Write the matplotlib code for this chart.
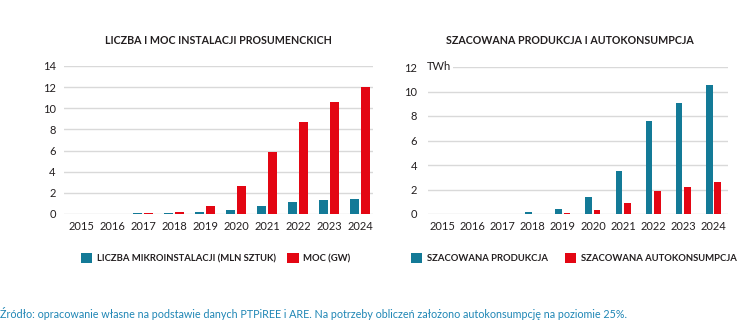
import matplotlib
matplotlib.use("Agg")
import matplotlib.pyplot as plt
from matplotlib.patches import Patch

plt.rcParams['font.family'] = ['Lato', 'DejaVu Sans']

years = ['2015', '2016', '2017', '2018', '2019', '2020', '2021', '2022', '2023', '2024']
liczba = [0.01, 0.02, 0.05, 0.08, 0.15, 0.38, 0.79, 1.13, 1.32, 1.45]
moc = [0.01, 0.02, 0.10, 0.22, 0.72, 2.67, 5.82, 8.74, 10.63, 11.98]
produkcja = [0.01, 0.02, 0.03, 0.14, 0.38, 1.39, 3.51, 7.59, 9.06, 10.50]
autokons = [0.01, 0.01, 0.02, 0.04, 0.10, 0.33, 0.87, 1.85, 2.23, 2.61]

left_title = 'LICZBA I MOC INSTALACJI PROSUMENCKICH'
right_title = 'SZACOWANA PRODUKCJA I AUTOKONSUMPCJA'
left_labels = ['LICZBA MIKROINSTALACJI (MLN SZTUK)', 'MOC (GW)']
right_labels = ['SZACOWANA PRODUKCJA', 'SZACOWANA AUTOKONSUMPCJA']
footer = 'Źródło: opracowanie własne na podstawie danych PTPiREE i ARE. Na potrzeby obliczeń założono autokonsumpcję na poziomie 25%.'

BLUE = '#137a97'
RED = '#e30613'
GRID = '#d9d9d9'
TXT = '#231f20'

W, H = 747, 331
fig = plt.figure(figsize=(W/100, H/100), dpi=100)

def ax_at(x0, x1, y0, y1):
    return fig.add_axes([x0/W, 1 - y1/H, (x1-x0)/W, (y1-y0)/H])

axL = ax_at(64, 373, 66, 214)
axR = ax_at(428, 728, 67, 214)

x = list(range(len(years)))

def style(ax, ymax, step, xlim):
    ax.set_ylim(0, ymax)
    ax.set_xlim(*xlim)
    ax.set_yticks(range(0, ymax + 1, step))
    ax.set_xticks(x)
    ax.set_xticklabels(years)
    for s in ax.spines.values():
        s.set_visible(False)
    ax.grid(axis='y', color=GRID, linewidth=1.0)
    ax.set_axisbelow(True)
    ax.tick_params(axis='both', length=0, labelsize=8, colors=TXT)
    ax.tick_params(axis='x', pad=5)
    ax.tick_params(axis='y', pad=6)
    ax.set_facecolor('none')

wL, offL = 0.27, 0.18
axL.bar([i - offL for i in x], liczba, width=wL, color=BLUE)
axL.bar([i + offL for i in x], moc, width=wL, color=RED)
style(axL, 14, 2, (-0.55, 9.42))

wR, offR = 0.22, 0.14
axR.bar([i - offR for i in x], produkcja, width=wR, color=BLUE)
axR.bar([i + offR for i in x], autokons, width=wR, color=RED)
style(axR, 12, 2, (-0.47, 9.48))
axR.tick_params(axis='y', pad=8)
fig.text(427/W, 1 - 66/H, 'TWh', fontsize=8, color=TXT, va='center', ha='left',
         bbox=dict(facecolor='white', edgecolor='none', pad=1.5))

fig.text(218/W, 1 - 41/H, left_title, fontsize=7.7, fontweight='bold', color=TXT,
         ha='center', va='center')
fig.text(570/W, 1 - 41/H, right_title, fontsize=7.7, fontweight='bold', color=TXT,
         ha='center', va='center')

def legend(xpos, labels, colspace):
    handles = [Patch(facecolor=BLUE, edgecolor='none'), Patch(facecolor=RED, edgecolor='none')]
    lg = fig.legend(handles, labels, loc='center left', bbox_to_anchor=(xpos/W, 1 - 258/H),
                    ncol=2, frameon=False, handlelength=1.2, handleheight=1.2,
                    handletextpad=0.5, columnspacing=colspace, borderpad=0, borderaxespad=0,
                    prop={'weight': 'bold', 'size': 6.8})
    for t in lg.get_texts():
        t.set_color(TXT)
    return lg

legend(81, left_labels, 1.2)
legend(411, right_labels, 1.8)

fig.text(0/W, 1 - 313/H, footer, fontsize=7.75, color='#1f86b5', ha='left', va='center')

fig.savefig('out.png', dpi=100, facecolor='white')
